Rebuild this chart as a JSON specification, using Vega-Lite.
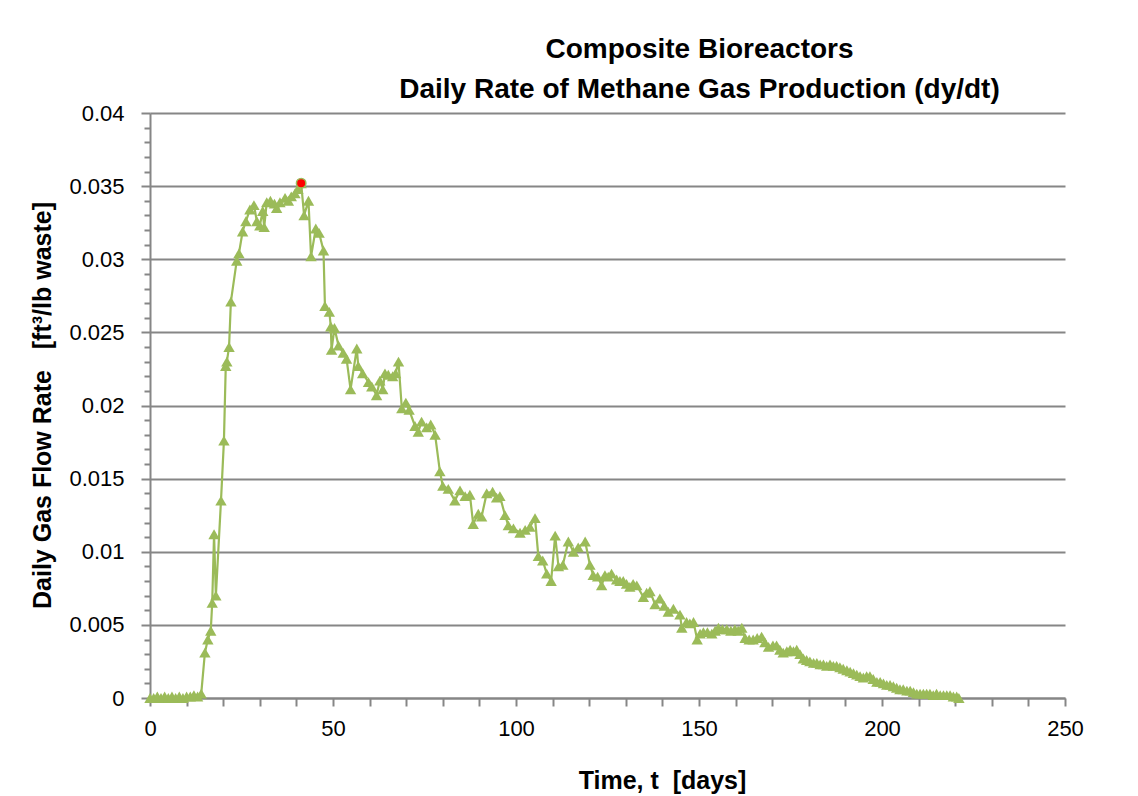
{
  "$schema": "https://vega.github.io/schema/vega-lite/v6.json",
  "width": 915,
  "height": 585,
  "autosize": {"type": "none"},
  "padding": {"left": 150, "top": 113, "right": 73, "bottom": 98},
  "background": "white",
  "config": {
    "view": {"stroke": null},
    "font": "Liberation Sans"
  },
  "title": {
    "text": ["Composite Bioreactors", "Daily Rate of Methane Gas Production (dy/dt)"],
    "font": "Liberation Sans",
    "fontSize": 28,
    "fontWeight": "bold",
    "color": "black",
    "anchor": "middle",
    "dx": 92,
    "offset": -2,
    "lineHeight": 40
  },
  "data": {
    "values": [
      {"t": 0, "rate": 0.0}, {"t": 1, "rate": 0.0}, {"t": 2, "rate": 0.0001}, {"t": 3, "rate": 0.0},
      {"t": 4, "rate": 0.0001}, {"t": 5, "rate": 0.0}, {"t": 6, "rate": 0.0001}, {"t": 7, "rate": 0.0},
      {"t": 8, "rate": 0.0001}, {"t": 9, "rate": 0.0}, {"t": 10, "rate": 0.0001}, {"t": 11, "rate": 0.0001},
      {"t": 12, "rate": 0.0002}, {"t": 13, "rate": 0.0001}, {"t": 14, "rate": 0.0003},
      {"t": 15.0, "rate": 0.0031}, {"t": 15.8, "rate": 0.0040}, {"t": 16.6, "rate": 0.0046},
      {"t": 17.0, "rate": 0.0065}, {"t": 17.5, "rate": 0.0112}, {"t": 18.0, "rate": 0.0070},
      {"t": 19.4, "rate": 0.0135}, {"t": 20.2, "rate": 0.0176}, {"t": 20.7, "rate": 0.0227},
      {"t": 21.0, "rate": 0.0230}, {"t": 21.6, "rate": 0.0240}, {"t": 22.1, "rate": 0.0271},
      {"t": 23.7, "rate": 0.0299}, {"t": 24.3, "rate": 0.0304}, {"t": 25.3, "rate": 0.0319},
      {"t": 26.2, "rate": 0.0326}, {"t": 27.3, "rate": 0.0334}, {"t": 28.4, "rate": 0.0337},
      {"t": 29.2, "rate": 0.0326}, {"t": 30.0, "rate": 0.0323}, {"t": 30.8, "rate": 0.0333},
      {"t": 31.2, "rate": 0.0322}, {"t": 31.9, "rate": 0.0339}, {"t": 32.9, "rate": 0.0340},
      {"t": 34.0, "rate": 0.0338}, {"t": 34.6, "rate": 0.0335}, {"t": 35.5, "rate": 0.0339},
      {"t": 36.9, "rate": 0.0342}, {"t": 37.8, "rate": 0.0340}, {"t": 38.6, "rate": 0.0343},
      {"t": 39.6, "rate": 0.0345}, {"t": 40.4, "rate": 0.0348}, {"t": 41.3, "rate": 0.0352},
      {"t": 42.1, "rate": 0.0330}, {"t": 43.3, "rate": 0.0340}, {"t": 44.0, "rate": 0.0302},
      {"t": 45.3, "rate": 0.0321}, {"t": 46.2, "rate": 0.0318}, {"t": 47.4, "rate": 0.0306},
      {"t": 47.8, "rate": 0.0268}, {"t": 49.0, "rate": 0.0264}, {"t": 49.4, "rate": 0.0254},
      {"t": 49.6, "rate": 0.0238}, {"t": 50.4, "rate": 0.0253}, {"t": 51.5, "rate": 0.0241},
      {"t": 52.8, "rate": 0.0236}, {"t": 53.7, "rate": 0.0232}, {"t": 54.8, "rate": 0.0211},
      {"t": 56.5, "rate": 0.0239}, {"t": 56.9, "rate": 0.0227}, {"t": 58.1, "rate": 0.0222},
      {"t": 59.7, "rate": 0.0216}, {"t": 60.6, "rate": 0.0213}, {"t": 61.9, "rate": 0.0207},
      {"t": 62.8, "rate": 0.0217}, {"t": 63.6, "rate": 0.0211}, {"t": 64.2, "rate": 0.0222},
      {"t": 65.1, "rate": 0.0221}, {"t": 66.3, "rate": 0.0220}, {"t": 67.1, "rate": 0.0222},
      {"t": 67.9, "rate": 0.0230}, {"t": 68.8, "rate": 0.0198}, {"t": 69.9, "rate": 0.0202},
      {"t": 70.8, "rate": 0.0197}, {"t": 72.4, "rate": 0.0186}, {"t": 73.3, "rate": 0.0182},
      {"t": 74.2, "rate": 0.0189}, {"t": 75.6, "rate": 0.0185}, {"t": 76.7, "rate": 0.0187},
      {"t": 77.9, "rate": 0.0180}, {"t": 79.2, "rate": 0.0155}, {"t": 80.0, "rate": 0.0145},
      {"t": 81.5, "rate": 0.0143}, {"t": 83.3, "rate": 0.0135}, {"t": 84.7, "rate": 0.0142},
      {"t": 86.1, "rate": 0.0138}, {"t": 87.4, "rate": 0.0139}, {"t": 88.3, "rate": 0.0119},
      {"t": 89.7, "rate": 0.0126}, {"t": 90.6, "rate": 0.0124}, {"t": 92.0, "rate": 0.0140},
      {"t": 93.6, "rate": 0.0141}, {"t": 94.7, "rate": 0.0137}, {"t": 95.6, "rate": 0.0138},
      {"t": 97.0, "rate": 0.0125}, {"t": 97.9, "rate": 0.0118}, {"t": 99.3, "rate": 0.0116},
      {"t": 101.1, "rate": 0.0113}, {"t": 102.5, "rate": 0.0115}, {"t": 103.8, "rate": 0.0117},
      {"t": 105.2, "rate": 0.0123}, {"t": 106.1, "rate": 0.0097}, {"t": 107.3, "rate": 0.0094},
      {"t": 108.4, "rate": 0.0085}, {"t": 109.6, "rate": 0.0080}, {"t": 110.7, "rate": 0.0111},
      {"t": 111.6, "rate": 0.0090}, {"t": 112.8, "rate": 0.0091}, {"t": 114.3, "rate": 0.0107},
      {"t": 115.7, "rate": 0.0100}, {"t": 117.0, "rate": 0.0103}, {"t": 118.9, "rate": 0.0107},
      {"t": 120.2, "rate": 0.0091}, {"t": 121.1, "rate": 0.0084}, {"t": 122.3, "rate": 0.0083},
      {"t": 123.4, "rate": 0.0077}, {"t": 124.3, "rate": 0.0084}, {"t": 125.2, "rate": 0.0083},
      {"t": 126.1, "rate": 0.0085}, {"t": 127.5, "rate": 0.0081}, {"t": 128.4, "rate": 0.0080},
      {"t": 129.3, "rate": 0.0080}, {"t": 130.2, "rate": 0.0078}, {"t": 131.1, "rate": 0.0076},
      {"t": 132.0, "rate": 0.0078}, {"t": 133.0, "rate": 0.0077}, {"t": 134.8, "rate": 0.0069},
      {"t": 135.7, "rate": 0.0072}, {"t": 136.6, "rate": 0.0073}, {"t": 138.0, "rate": 0.0064},
      {"t": 139.3, "rate": 0.0068}, {"t": 140.5, "rate": 0.0063}, {"t": 141.6, "rate": 0.0059},
      {"t": 143.0, "rate": 0.0061}, {"t": 144.8, "rate": 0.0057}, {"t": 145.3, "rate": 0.0048},
      {"t": 146.6, "rate": 0.0052}, {"t": 147.5, "rate": 0.0051}, {"t": 148.5, "rate": 0.0052},
      {"t": 149.5, "rate": 0.0040}, {"t": 150.3, "rate": 0.0044}, {"t": 151.2, "rate": 0.0045},
      {"t": 152.3, "rate": 0.0045}, {"t": 153.5, "rate": 0.0044}, {"t": 154.4, "rate": 0.0046},
      {"t": 155.3, "rate": 0.0048}, {"t": 156.4, "rate": 0.0047}, {"t": 157.6, "rate": 0.0047},
      {"t": 158.7, "rate": 0.0046}, {"t": 159.8, "rate": 0.0047}, {"t": 160.7, "rate": 0.0046},
      {"t": 161.7, "rate": 0.0048}, {"t": 162.6, "rate": 0.0041}, {"t": 163.7, "rate": 0.0040},
      {"t": 164.8, "rate": 0.0040}, {"t": 165.9, "rate": 0.0041}, {"t": 167.1, "rate": 0.0042},
      {"t": 168.0, "rate": 0.0038}, {"t": 169.0, "rate": 0.0035}, {"t": 170.2, "rate": 0.0036},
      {"t": 171.2, "rate": 0.0036}, {"t": 172.1, "rate": 0.0033}, {"t": 173.0, "rate": 0.0031},
      {"t": 174.0, "rate": 0.0032}, {"t": 174.9, "rate": 0.0033}, {"t": 175.8, "rate": 0.0032},
      {"t": 176.7, "rate": 0.0033}, {"t": 177.6, "rate": 0.0030}, {"t": 178.5, "rate": 0.0027},
      {"t": 179.4, "rate": 0.0026}, {"t": 180.3, "rate": 0.0025}, {"t": 181.3, "rate": 0.0024},
      {"t": 182.2, "rate": 0.0024}, {"t": 183.1, "rate": 0.0023}, {"t": 184.0, "rate": 0.0023},
      {"t": 184.9, "rate": 0.0022}, {"t": 185.8, "rate": 0.0023}, {"t": 186.7, "rate": 0.0022},
      {"t": 187.6, "rate": 0.0022}, {"t": 188.5, "rate": 0.0021}, {"t": 189.4, "rate": 0.0020},
      {"t": 190.4, "rate": 0.0019}, {"t": 191.3, "rate": 0.0018}, {"t": 192.2, "rate": 0.0017},
      {"t": 193.1, "rate": 0.0016}, {"t": 194.0, "rate": 0.0015}, {"t": 194.9, "rate": 0.0014},
      {"t": 195.8, "rate": 0.0015}, {"t": 196.7, "rate": 0.0015}, {"t": 197.6, "rate": 0.0013},
      {"t": 198.6, "rate": 0.0011}, {"t": 199.5, "rate": 0.0011}, {"t": 200.4, "rate": 0.0010},
      {"t": 201.3, "rate": 0.0009}, {"t": 202.2, "rate": 0.0009}, {"t": 203.1, "rate": 0.0008},
      {"t": 204.0, "rate": 0.0007}, {"t": 204.9, "rate": 0.0006}, {"t": 205.8, "rate": 0.0006},
      {"t": 206.8, "rate": 0.0005}, {"t": 207.7, "rate": 0.0005}, {"t": 208.6, "rate": 0.0004},
      {"t": 209.5, "rate": 0.0003}, {"t": 210.4, "rate": 0.0003}, {"t": 211.3, "rate": 0.0003},
      {"t": 212.2, "rate": 0.0003}, {"t": 213.1, "rate": 0.0003}, {"t": 214.0, "rate": 0.0002},
      {"t": 214.9, "rate": 0.0003}, {"t": 215.9, "rate": 0.0002}, {"t": 216.8, "rate": 0.0002},
      {"t": 217.7, "rate": 0.0002}, {"t": 218.6, "rate": 0.0002}, {"t": 219.5, "rate": 0.0001},
      {"t": 220.4, "rate": 0.0001}, {"t": 221.0, "rate": 0.0}
    ]
  },
  "encoding": {
    "x": {
      "field": "t",
      "type": "quantitative",
      "scale": {"domain": [0, 250], "nice": false, "zero": true},
      "axis": {
        "title": "Time, t\u00a0\u00a0[days]",
        "titleFont": "Liberation Sans",
        "titleFontSize": 25,
        "titleFontWeight": "bold",
        "titleColor": "black",
        "titleX": 512,
        "titleY": 82,
        "titleAlign": "center",
        "titleBaseline": "middle",
        "values": [0, 10, 20, 30, 40, 50, 60, 70, 80, 90, 100, 110, 120, 130, 140, 150, 160, 170, 180, 190, 200, 210, 220, 230, 240, 250],
        "labelExpr": "datum.value % 50 === 0 ? datum.label : ''",
        "format": "~f",
        "labelFont": "Liberation Sans",
        "labelFontSize": 22,
        "labelColor": "black",
        "labelPadding": 12,
        "labelFlush": false,
        "labelOverlap": false,
        "grid": false,
        "domainColor": "#868686",
        "domainWidth": 2,
        "tickColor": "#868686",
        "tickWidth": 2,
        "tickSize": 8
      }
    },
    "y": {
      "field": "rate",
      "type": "quantitative",
      "scale": {"domain": [0, 0.04], "nice": false},
      "axis": {
        "title": "Daily Gas Flow Rate\u00a0\u00a0\u00a0[ft\u00b3/lb waste]",
        "titleFont": "Liberation Sans",
        "titleFontSize": 25,
        "titleFontWeight": "bold",
        "titleColor": "black",
        "titleX": -108,
        "titleY": 292,
        "titleAngle": -90,
        "titleAlign": "center",
        "titleBaseline": "middle",
        "values": [0, 0.001, 0.002, 0.003, 0.004, 0.005, 0.006, 0.007, 0.008, 0.009, 0.01, 0.011, 0.012, 0.013, 0.014, 0.015, 0.016, 0.017, 0.018, 0.019, 0.02, 0.021, 0.022, 0.023, 0.024, 0.025, 0.026, 0.027, 0.028, 0.029, 0.03, 0.031, 0.032, 0.033, 0.034, 0.035, 0.036, 0.037, 0.038, 0.039, 0.04],
        "labelExpr": "abs(datum.value * 200 - round(datum.value * 200)) < 0.000001 ? datum.label : ''",
        "format": "~f",
        "labelFont": "Liberation Sans",
        "labelFontSize": 22,
        "labelColor": "black",
        "labelPadding": 17,
        "labelFlush": false,
        "labelOverlap": false,
        "grid": true,
        "gridColor": "#868686",
        "gridWidth": 2,
        "gridOpacity": {"condition": {"test": "abs(datum.value * 200 - round(datum.value * 200)) < 0.000001", "value": 1}, "value": 0},
        "domainColor": "#868686",
        "domainWidth": 2,
        "tickColor": "#868686",
        "tickWidth": 2,
        "tickSize": {"condition": {"test": "abs(datum.value * 200 - round(datum.value * 200)) < 0.000001", "value": 9}, "value": 6}
      }
    }
  },
  "layer": [
    {
      "mark": {
        "type": "line",
        "color": "#9BBB59",
        "strokeWidth": 2.2,
        "point": {"shape": "triangle-up", "size": 130, "filled": true, "color": "#9BBB59", "opacity": 1}
      }
    },
    {
      "transform": [
        {"joinaggregate": [{"op": "max", "field": "rate", "as": "maxRate"}]},
        {"filter": "datum.rate === datum.maxRate"}
      ],
      "mark": {"type": "point", "shape": "circle", "filled": true, "color": "#FF0000", "size": 90, "stroke": "#9BBB59", "strokeWidth": 1.5, "opacity": 1}
    }
  ]
}
